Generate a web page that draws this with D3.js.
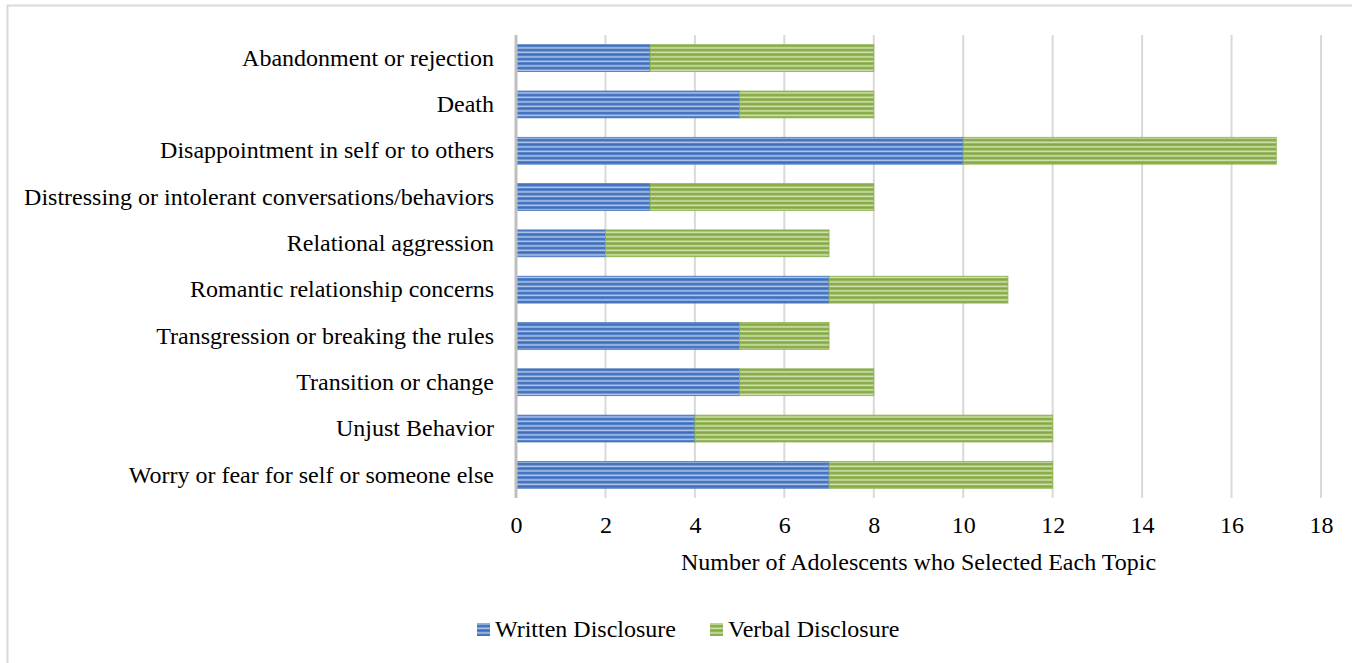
<!DOCTYPE html>
<html><head><meta charset="utf-8">
<script src="https://cdn.jsdelivr.net/npm/d3@7"></script>
<style>html,body{margin:0;padding:0;background:#fff;}svg{display:block;}</style>
</head><body>
<svg id="c" width="1352" height="663"></svg>
<script>
const categories = ["Abandonment or rejection","Death","Disappointment in self or to others","Distressing or intolerant conversations/behaviors","Relational aggression","Romantic relationship concerns","Transgression or breaking the rules","Transition or change","Unjust Behavior","Worry or fear for self or someone else"];
const written = [3,5,10,3,2,7,5,5,4,7];
const verbal = [5,3,7,5,5,4,2,3,8,5];
const seriesNames = ["Written Disclosure","Verbal Disclosure"];
const xTicks = [0,2,4,6,8,10,12,14,16,18];

const svg = d3.select("#c");
const font = "'Liberation Serif','Times New Roman',serif";
const fs = 24;
const colors = {base:["#4f7fc9","#93b556"], light:["#b3c8ec","#d3e3b0"], dark:["#3f6cb6","#84a647"]};

// border
svg.append("path").attr("d","M7.5,663 V5.5 H1352").attr("fill","none").attr("stroke","#d9d9d9").attr("stroke-width",2);

const defs = svg.append("defs");
["w","v"].forEach((id,i)=>{
  const p = defs.append("pattern").attr("id","pat-"+id).attr("patternUnits","userSpaceOnUse").attr("width",8).attr("height",4.5);
  p.append("rect").attr("width",8).attr("height",4.5).attr("fill",colors.base[i]);
  p.append("rect").attr("y",0).attr("width",8).attr("height",1.2).attr("fill",colors.dark[i]);
  p.append("rect").attr("y",2.2).attr("width",8).attr("height",1.4).attr("fill",colors.light[i]);
});

const x = d3.scaleLinear().domain([0,18]).range([516,1321]);
const y = d3.scaleBand().domain(categories).range([35,498]).paddingInner(0.42).paddingOuter(0.21);

// gridlines
svg.append("g").selectAll("line").data(xTicks.slice(1)).join("line")
  .attr("x1",d=>x(d)).attr("x2",d=>x(d)).attr("y1",35).attr("y2",498)
  .attr("stroke","#d9d9d9").attr("stroke-width",2);

const data = categories.map((c,i)=>({c,w:written[i],v:verbal[i]}));
const g = svg.append("g");
g.selectAll("rect.w").data(data).join("rect").attr("class","w")
  .attr("x",x(0)).attr("y",d=>y(d.c)).attr("width",d=>x(d.w)-x(0)).attr("height",y.bandwidth())
  .attr("fill","url(#pat-w)").attr("stroke","#4a78c2").attr("stroke-width",0.8);
g.selectAll("rect.v").data(data).join("rect").attr("class","v")
  .attr("x",d=>x(d.w)).attr("y",d=>y(d.c)).attr("width",d=>x(d.w+d.v)-x(d.w)).attr("height",y.bandwidth())
  .attr("fill","url(#pat-v)").attr("stroke","#8fb34f").attr("stroke-width",0.8);

// y axis line
svg.append("line").attr("x1",x(0)).attr("x2",x(0)).attr("y1",35).attr("y2",498).attr("stroke","#bfbfbf").attr("stroke-width",3);

// y axis labels
const yAxis = d3.axisLeft(y).tickSize(0).tickPadding(0);
const yg = svg.append("g").attr("transform",`translate(${494},0)`).call(yAxis);
yg.select(".domain").remove();
yg.selectAll("text").attr("font-family",font).attr("font-size",fs).attr("fill","#000");

// x axis labels
const xAxis = d3.axisBottom(x).tickValues(xTicks).tickSize(0).tickPadding(0);
const xg = svg.append("g").attr("transform",`translate(0,${516})`).call(xAxis);
xg.select(".domain").remove();
xg.selectAll("text").attr("font-family",font).attr("font-size",fs).attr("fill","#000");

svg.append("text").attr("x",(x(0)+x(18))/2).attr("y",570).attr("text-anchor","middle")
  .attr("font-family",font).attr("font-size",fs).attr("fill","#000").text("Number of Adolescents who Selected Each Topic");

// legend
const leg = [{n:seriesNames[0],p:"url(#pat-w)",sx:477},{n:seriesNames[1],p:"url(#pat-v)",sx:710}];
const lg = svg.append("g");
leg.forEach(l=>{
  lg.append("rect").attr("x",l.sx).attr("y",623).attr("width",13).attr("height",13).attr("fill",l.p);
  lg.append("text").attr("x",l.sx+18).attr("y",637).attr("font-family",font).attr("font-size",fs).attr("fill","#000").text(l.n);
});
</script>
</body></html>
